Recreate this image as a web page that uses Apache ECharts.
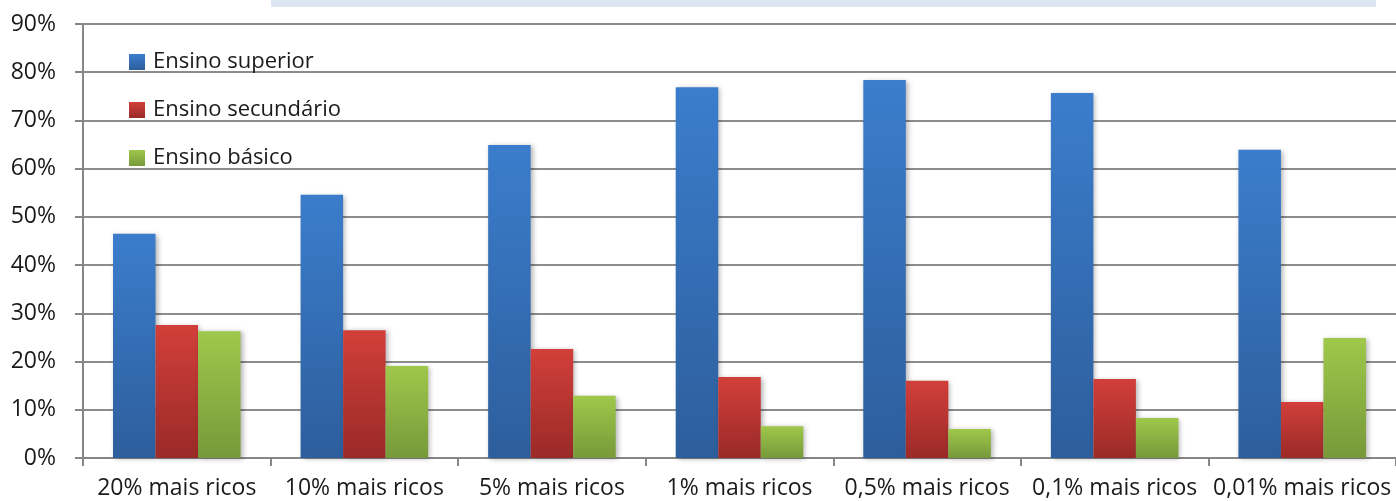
<!DOCTYPE html>
<html>
<head>
<meta charset="utf-8">
<script src="https://cdn.jsdelivr.net/npm/echarts@6/dist/echarts.min.js"></script>
<style>
  html, body { margin: 0; padding: 0; background: #ffffff; }
  #chart { width: 1396px; height: 501px; }
</style>
</head>
<body>
<div id="chart"></div>
<script>
// Share of each wealth group by education level
const categories = ['20% mais ricos', '10% mais ricos', '5% mais ricos', '1% mais ricos', '0,5% mais ricos', '0,1% mais ricos', '0,01% mais ricos'];
const seriesNames = ['Ensino superior', 'Ensino secundário', 'Ensino básico'];
const superior   = [46.5, 54.6, 64.9, 76.9, 78.4, 75.7, 63.9];
const secundario = [27.6, 26.5, 22.6, 16.8, 16.0, 16.4, 11.6];
const basico     = [26.3, 19.1, 12.9, 6.6, 6.0, 8.3, 24.9];
const yTicks = [0, 10, 20, 30, 40, 50, 60, 70, 80, 90];

const FONT = '"Open Sans", "Noto Sans", sans-serif';

function grad(top, bottom) {
  return new echarts.graphic.LinearGradient(0, 0, 0, 1, [
    { offset: 0, color: top },
    { offset: 1, color: bottom }
  ]);
}

const palette = [
  ['#3b7dcc', '#2d5e9c'],
  ['#d23f3a', '#9a2a28'],
  ['#9fc84b', '#77993a']
];
const values = [superior, secundario, basico];

const chart = echarts.init(document.getElementById('chart'), null, { renderer: 'canvas' });

chart.setOption({
  animation: false,
  backgroundColor: '#ffffff',
  grid: { left: 83, right: 0, top: 24, bottom: 43, containLabel: false },
  graphic: [{
    type: 'rect',
    shape: { x: 271, y: 0, width: 1105, height: 7 },
    style: { fill: '#dce6f2' },
    silent: true
  }],
  legend: {
    orient: 'vertical',
    left: 124,
    top: 45,
    itemGap: 24,
    itemWidth: 16,
    itemHeight: 16,
    icon: 'rect',
    textStyle: { fontFamily: FONT, fontSize: 22, lineHeight: 24, color: '#1a1a1a', padding: [0, 0, 0, 3] },
    data: seriesNames.map((n, i) => ({ name: n, itemStyle: { color: grad(palette[i][0], palette[i][1]) } }))
  },
  xAxis: {
    type: 'category',
    data: categories,
    axisLine: { show: true, lineStyle: { color: '#868686', width: 2 } },
    axisTick: { show: true, length: 8, lineStyle: { color: '#868686', width: 2 } },
    axisLabel: { fontFamily: FONT, fontSize: 23, color: '#1a1a1a', margin: 19, interval: 0 }
  },
  yAxis: {
    type: 'value',
    min: 0,
    max: 90,
    interval: 10,
    axisLine: { show: true, lineStyle: { color: '#868686', width: 2 } },
    axisTick: { show: true, length: 8, lineStyle: { color: '#868686', width: 2 } },
    splitLine: { show: true, lineStyle: { color: '#8c8c8c', width: 2 } },
    axisLabel: {
      fontFamily: FONT, fontSize: 23, color: '#1a1a1a', margin: 27,
      formatter: v => (yTicks.includes(v) ? v + '%' : '')
    }
  },
  series: values.map((arr, i) => ({
    name: seriesNames[i],
    type: 'bar',
    data: arr,
    barGap: '0%',
    barCategoryGap: '32%',
    itemStyle: {
      color: grad(palette[i][0], palette[i][1]),
      shadowBlur: 5,
      shadowOffsetX: 2,
      shadowOffsetY: 1,
      shadowColor: 'rgba(0,0,0,0.3)'
    }
  }))
});
</script>
</body>
</html>
